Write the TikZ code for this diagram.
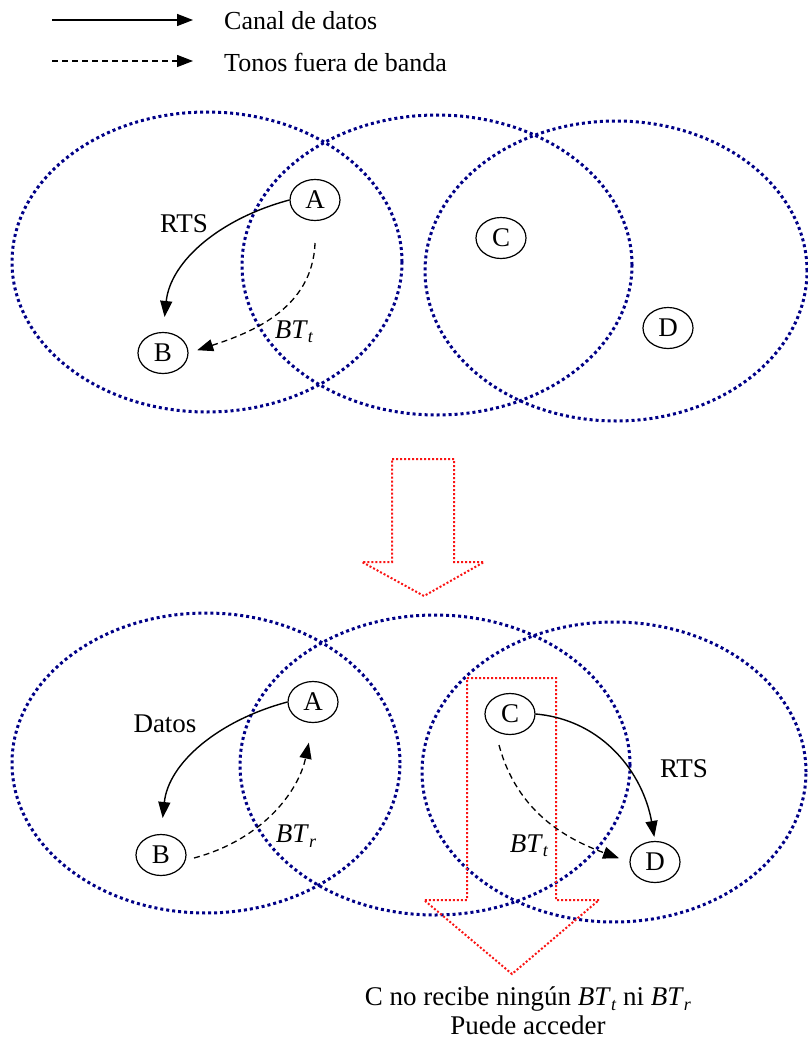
\documentclass[tikz,border=0pt]{standalone}
\usepackage{fontspec}
\setmainfont{Liberation Serif}
\usetikzlibrary{shapes.geometric,arrows.meta}
\definecolor{rangeblue}{RGB}{0,0,135}
\definecolor{flowred}{RGB}{250,20,20}
\newcommand{\bt}[1]{\textit{BT}\raisebox{-0.35ex}{\fontsize{18}{18}\selectfont\textit{#1}}}
\tikzset{
  coverage/.style={draw=rangeblue, line width=3pt, dash pattern=on 3pt off 3pt},
  flow/.style={draw=flowred, line width=2pt, dash pattern=on 2pt off 2pt},
  station/.style={draw, ellipse, minimum width=50pt, minimum height=41pt, inner sep=0pt,
    line width=1.2pt, fill=white, font=\fontsize{27}{27}\selectfont},
  lbl/.style={font=\fontsize{27}{31}\selectfont, inner sep=0pt},
  legendtxt/.style={font=\fontsize{26}{28}\selectfont, anchor=west, inner sep=0pt},
  datalink/.style={line width=1.4pt, -{Triangle[length=16pt,width=12pt]}},
  tonelink/.style={line width=1.3pt, dash pattern=on 6pt off 4pt, -{Triangle[length=16pt,width=12pt]}},
}
\begin{document}
\begin{tikzpicture}[x=1pt,y=-1pt]
\useasboundingbox (0,0) rectangle (807,1043);

% legend
\coordinate (l1a) at (52,20);
\coordinate (l1b) at (193,20);
\coordinate (l2a) at (52,61);
\coordinate (l2b) at (193,61);
\draw[datalink] (l1a) -- (l1b);
\draw[tonelink] (l2a) -- (l2b);
\node[legendtxt] (leg1) at (224,21) {Canal de datos};
\node[legendtxt] (leg2) at (224,62) {Tonos fuera de banda};

% coverage areas, first stage
\draw[coverage] (207,262) ellipse [x radius=195pt, y radius=150pt];
\draw[coverage] (437,265) ellipse [x radius=195pt, y radius=150pt];
\draw[coverage] (616,271) ellipse [x radius=191pt, y radius=150pt];

% coverage areas, second stage
\draw[coverage] (206,763) ellipse [x radius=194pt, y radius=150pt];
\draw[coverage] (435,765) ellipse [x radius=195pt, y radius=150pt];
\draw[coverage] (614,772) ellipse [x radius=192pt, y radius=150pt];

% transition arrow
\draw[flow] (392,459) -- (454,459) -- (454,562) -- (484,562) -- (424,596)
  -- (362,562) -- (392,562) -- cycle;

% access arrow for C
\draw[flow] (467,678) -- (556,678) -- (556,900) -- (599,900) -- (512,974)
  -- (424,900) -- (467,900) -- cycle;

% first stage stations
\node[station] (A1) at (315,200) {A};
\node[station] (B1) at (163,353) {B};
\node[station] (C1) at (501,238) {C};
\node[station] (D1) at (668,328) {D};

\draw[datalink, shorten >=15pt] (A1.west) to[out=195,in=84] (B1.north);
\coordinate (A1s) at (315,243);
\draw[tonelink, shorten >=9pt] (A1s) to[out=268,in=18] (B1.east);
\node[lbl] (rts1) at (184,224) {RTS};
\node[lbl] (btt1) at (294,332) {\bt{t}};

% second stage stations
\node[station] (A2) at (313,702) {A};
\node[station] (B2) at (161,855) {B};
\node[station] (C2) at (510,714) {C};
\node[station] (D2) at (655,862) {D};

\draw[datalink, shorten >=16pt] (A2.west) to[out=195,in=84] (B2.north);
\coordinate (B2e) at (194,858);
\draw[tonelink, shorten >=20pt] (B2e) to[out=15,in=258] (A2.south);
\draw[datalink, shorten >=4pt] (C2.east) to[out=-5,in=100] (D2.north);
\coordinate (C2s) at (499,745);
\draw[tonelink, shorten >=11pt] (C2s) to[out=-75,in=160] (D2.west);
\node[lbl] (dat2) at (165,724) {Datos};
\node[lbl] (btr2) at (296,836) {\bt{r}};
\node[lbl] (rts2) at (684,769) {RTS};
\node[lbl] (btt2) at (529,846) {\bt{t}};

% conclusion
\node[font=\fontsize{27}{29}\selectfont, inner sep=0pt, align=center] (note) at (528,1011)
  {C no recibe ningún \bt{t} ni \bt{r}\\Puede acceder};
\end{tikzpicture}
\end{document}
